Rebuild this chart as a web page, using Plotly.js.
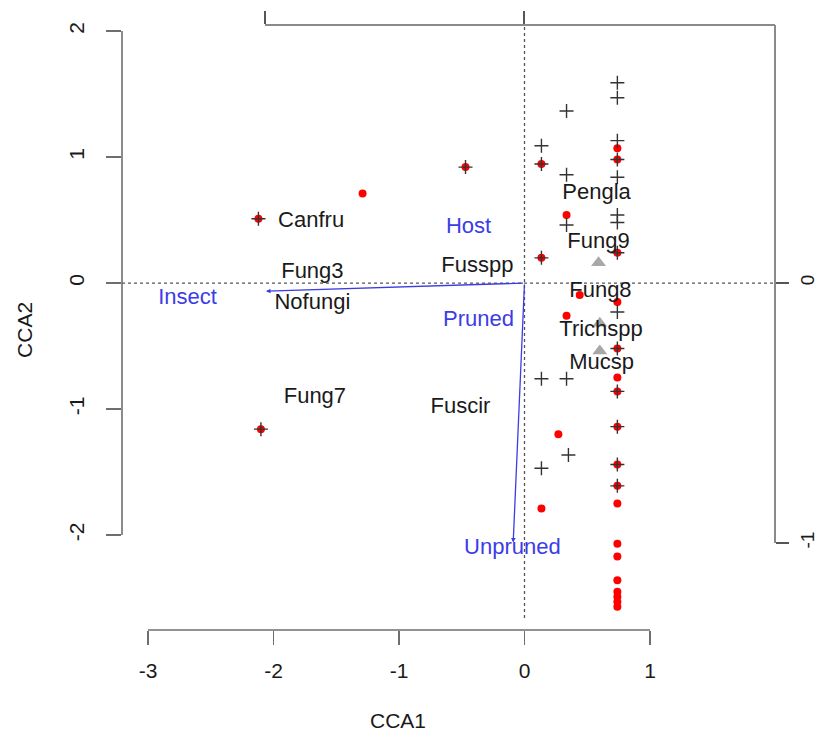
<!DOCTYPE html>
<html>
<head>
<meta charset="utf-8">
<script src="https://cdn.plot.ly/plotly-3.0.1.min.js"></script>
<style>html,body{margin:0;padding:0;background:#fff}#plot{width:818px;height:740px}</style>
</head>
<body>
<div id="plot"></div>
<script>
// Site scores (red dots)
const siteX = [-0.47, -1.29, -2.12, -2.10, 0.135, 0.135, 0.135, 0.335, 0.335, 0.27, 0.44,
  0.74, 0.74, 0.74, 0.74, 0.74, 0.74, 0.74, 0.74, 0.74, 0.74, 0.74, 0.74, 0.74, 0.74, 0.74, 0.74, 0.74, 0.74];
const siteY = [0.92, 0.71, 0.51, -1.16, 0.945, 0.20, -1.79, 0.54, -0.26, -1.20, -0.095,
  1.07, 0.98, 0.24, -0.15, -0.52, -0.75, -0.86, -1.14, -1.44, -1.61, -1.75, -2.07, -2.17, -2.36, -2.45, -2.49, -2.53, -2.57];

// Linear-combination scores (black crosses)
const lcX = [-0.47, -2.12, -2.10, 0.135, 0.135, 0.135, 0.135, 0.135, 0.335, 0.335, 0.335, 0.335, 0.35,
  0.74, 0.74, 0.74, 0.74, 0.74, 0.74, 0.74, 0.74, 0.74, 0.74, 0.74, 0.74, 0.74, 0.74];
const lcY = [0.92, 0.51, -1.16, 1.09, 0.945, 0.20, -0.76, -1.47, 1.365, 0.86, 0.46, -0.76, -1.365,
  1.59, 1.47, 1.13, 0.98, 0.84, 0.54, 0.48, 0.24, -0.23, -0.52, -0.86, -1.14, -1.44, -1.61];

// Factor centroids (grey triangles)
const centX = [0.59, 0.60, 0.60];
const centY = [0.16, -0.32, -0.54];

// Species labels
const spNames = ["Canfru", "Fung3", "Nofungi", "Fung7", "Fusspp", "Fuscir", "Pengla", "Fung9", "Fung8", "Trichspp", "Mucsp"];
const spX = [-1.70, -1.69, -1.69, -1.67, -0.375, -0.51, 0.574, 0.59, 0.605, 0.61, 0.615];
const spY = [0.49, 0.08, -0.16, -0.91, 0.135, -0.985, 0.714, 0.325, -0.07, -0.38, -0.635];

// Biplot arrows (environmental vectors)
const arrowNames = ["Insect", "Unpruned"];
const arrowX = [-2.06, -0.09];
const arrowY = [-0.065, -2.06];
const arrowLabelX = [-2.685, -0.096];
const arrowLabelY = [-0.12, -2.11];

// Centroid labels (blue text)
const cenNames = ["Host", "Pruned"];
const cenLabX = [-0.446, -0.367];
const cenLabY = [0.437, -0.294];

// Axis ticks
const xTicks = [-3, -2, -1, 0, 1];
const xTickText = ["-3", "-2", "-1", "0", "1"];
const yTicks = [-2, -1, 0, 1, 2];
const yTickText = ["-2", "-1", "0", "1", "2"];
const x2Ticks = [-1, 0];
const y2Ticks = [-1, 0];
const y2TickText = ["-1", "0"];

const FONT = "Liberation Sans, Arial, sans-serif";
const BLUE = "#3c3ce6";
const AXC = "#6e6e6e";

const traces = [
  {x: centX, y: centY, mode: "markers", type: "scatter",
   marker: {symbol: "triangle-up", size: 13, color: "#a8a8a8"}, hoverinfo: "skip"},
  {x: siteX, y: siteY, mode: "markers", type: "scatter",
   marker: {symbol: "circle", size: 8, color: "#ff0000", line: {width: 0}}, hoverinfo: "skip"},
  {x: lcX, y: lcY, mode: "markers", type: "scatter",
   marker: {symbol: "cross-thin-open", size: 10, color: "#333", line: {width: 1.4, color: "#333"}}, hoverinfo: "skip"},
  {x: spX, y: spY, text: spNames, mode: "text", type: "scatter", textposition: "middle center",
   textfont: {family: FONT, size: 22, color: "#1a1a1a"}, hoverinfo: "skip"},
  {x: arrowLabelX.concat(cenLabX), y: arrowLabelY.concat(cenLabY), text: arrowNames.concat(cenNames),
   mode: "text", type: "scatter", textposition: "middle center",
   textfont: {family: FONT, size: 22, color: BLUE}, hoverinfo: "skip"},
  // invisible traces to activate secondary axes
  {x: x2Ticks, y: [0, 0], xaxis: "x2", yaxis: "y", mode: "markers", marker: {opacity: 0}, hoverinfo: "skip"},
  {x: [0, 0], y: y2Ticks, xaxis: "x", yaxis: "y2", mode: "markers", marker: {opacity: 0}, hoverinfo: "skip"}
];

const annotations = arrowNames.map((n, i) => ({
  x: arrowX[i], y: arrowY[i], ax: 0, ay: 0, xref: "x", yref: "y", axref: "x", ayref: "y",
  text: "", showarrow: true, arrowhead: 2, arrowsize: 0.7, arrowwidth: 1.3, arrowcolor: BLUE
}));
annotations.push({text: "CCA1", xref: "paper", yref: "paper", x: 0.4227, y: -0.1488,
  showarrow: false, font: {family: FONT, size: 21, color: "#1a1a1a"}, xanchor: "center", yanchor: "middle"});
annotations.push({text: "CCA2", xref: "paper", yref: "paper", x: -0.1485, y: 0.496, textangle: -90,
  showarrow: false, font: {family: FONT, size: 21, color: "#1a1a1a"}, xanchor: "center", yanchor: "middle"});

const shapes = [
  {type: "line", xref: "x", yref: "paper", x0: 0, x1: 0, y0: 0.02, y1: 1, layer: "below",
   line: {color: "#555", width: 1.3, dash: "dot"}},
  {type: "line", xref: "paper", yref: "y", x0: 0, x1: 1, y0: 0, y1: 0, layer: "below",
   line: {color: "#555", width: 1.3, dash: "dot"}},
  {type: "line", xref: "paper", yref: "y", x0: 0, x1: 0, y0: yTicks[0], y1: yTicks[yTicks.length - 1],
   line: {color: AXC, width: 1.6}},
  {type: "line", xref: "x", yref: "paper", x0: xTicks[0], x1: xTicks[xTicks.length - 1], y0: 0, y1: 0,
   line: {color: AXC, width: 1.6}},
  {type: "line", xref: "x2", yref: "paper", x0: x2Ticks[0], x1: 0.969, y0: 1, y1: 1,
   line: {color: "#8a8a8a", width: 2}},
  {type: "line", xref: "paper", yref: "y2", x0: 1, x1: 1, y0: y2Ticks[0], y1: 0.992,
   line: {color: "#8a8a8a", width: 2}}
];

const tickfont = {family: FONT, size: 21, color: "#1a1a1a"};
const layout = {
  width: 818, height: 740,
  margin: {l: 122, r: 43, t: 25, b: 110},
  paper_bgcolor: "#fff", plot_bgcolor: "#fff",
  showlegend: false,
  xaxis: {range: [-3.207, 1.996], tickvals: xTicks, ticktext: xTickText, ticks: "outside", ticklen: 14, tickwidth: 1.3,
          tickcolor: AXC, showline: false, zeroline: false, showgrid: false, tickfont: tickfont,
          ticklabelstandoff: 8},
  yaxis: {range: [-2.754, 2.048], tickvals: yTicks, ticktext: yTickText, ticks: "outside", ticklen: 15, tickwidth: 1.3,
          tickcolor: AXC, showline: false, zeroline: false, showgrid: false, tickfont: tickfont,
          tickangle: -90, ticklabelstandoff: 14},
  xaxis2: {range: [-1.552, 0.969], overlaying: "x", side: "top", anchor: "y", tickvals: x2Ticks,
           ticks: "outside", ticklen: 13, tickwidth: 1.3, tickcolor: "#555", showline: false,
           zeroline: false, showgrid: false, showticklabels: false},
  yaxis2: {range: [-1.335, 0.992], overlaying: "y", side: "right", anchor: "x", tickvals: y2Ticks, ticktext: y2TickText,
           ticks: "outside", ticklen: 13, tickwidth: 1.3, tickcolor: "#555", showline: false,
           zeroline: false, showgrid: false, tickfont: {family: FONT, size: 19, color: "#1a1a1a"},
           tickangle: -90, ticklabelstandoff: 2},
  shapes: shapes,
  annotations: annotations
};

Plotly.newPlot("plot", traces, layout, {staticPlot: true, displayModeBar: false});
</script>
</body>
</html>
